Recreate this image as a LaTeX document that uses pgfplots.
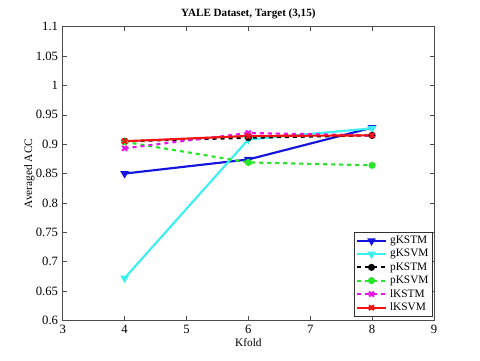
\documentclass[border=0pt]{standalone}
\usepackage{pgfplots}
\pgfplotsset{compat=1.18}
\usepackage{fontspec}
\setmainfont{Liberation Serif}

\definecolor{mblue}{RGB}{20,20,220}
\definecolor{mcyan}{RGB}{60,240,240}
\definecolor{mgreen}{RGB}{40,230,40}
\definecolor{mmag}{RGB}{230,20,230}
\definecolor{mred}{RGB}{240,20,20}

\begin{document}
\begin{tikzpicture}
\begin{axis}[
  name=ax,
  scale only axis,
  width=278pt, height=220pt,
  xmin=3, xmax=9, ymin=0.6, ymax=1.1,
  xtick={3,4,...,9},
  ytick={0.6,0.65,0.7,0.75,0.8,0.85,0.9,0.95,1,1.05,1.1},
  yticklabels={0.6,0.65,0.7,0.75,0.8,0.85,0.9,0.95,1,1.05,1.1},
  tick align=inside,
  tick style={black!70, thin},
  major tick length=3pt,
  axis line style={black!70},
  font=\fontsize{8.5}{10}\selectfont,
  tick label style={font=\fontsize{9.5}{11}\selectfont},
  /pgf/number format/assume math mode=true,
  title={\textbf{YALE Dataset, Target (3,15)}},
  title style={yshift=-4pt, font=\fontsize{8.3}{9}\selectfont},
  xlabel={Kfold}, ylabel={Averaged ACC},
  xlabel style={yshift=3pt}, ylabel style={yshift=-6pt},
  legend style={at={(0.997,0.012)}, anchor=south east, font=\fontsize{8.5}{10}\selectfont,
    draw=black!80, inner sep=1pt, row sep=-1.2pt},
  legend cell align=left,
  legend image code/.code={\draw[mark repeat=2,mark phase=2] plot coordinates {(0cm,0cm) (0.39cm,0cm) (0.78cm,0cm)};},
  every axis plot/.append style={line width=1.6pt},
]
\addplot[mblue, mark=triangle*, mark options={rotate=180, scale=1.1}] coordinates {(4,0.850) (6,0.874) (8,0.928)};
\addlegendentry{gKSTM}
\addplot[mcyan, mark=triangle*, mark options={rotate=180, scale=1.1}] coordinates {(4,0.672) (6,0.908) (8,0.927)};
\addlegendentry{gKSVM}
\addplot[black, dashed, mark=*, mark options={solid, scale=0.9}] coordinates {(4,0.905) (6,0.911) (8,0.915)};
\addlegendentry{pKSTM}
\addplot[mgreen, dashed, mark=*, mark options={solid, scale=0.9}] coordinates {(4,0.904) (6,0.869) (8,0.864)};
\addlegendentry{pKSVM}
\addplot[mmag, dashed, mark=x, mark options={solid, scale=1.3}] coordinates {(4,0.893) (6,0.919) (8,0.915)};
\addlegendentry{lKSTM}
\addplot[mred, mark=x, mark options={solid, scale=1.3}] coordinates {(4,0.905) (6,0.914) (8,0.915)};
\addlegendentry{lKSVM}
\end{axis}
\path[use as bounding box] ([shift={(-47pt,-30pt)}]ax.south west) rectangle ([shift={(34.5pt,20pt)}]ax.north east);
\end{tikzpicture}
\end{document}
